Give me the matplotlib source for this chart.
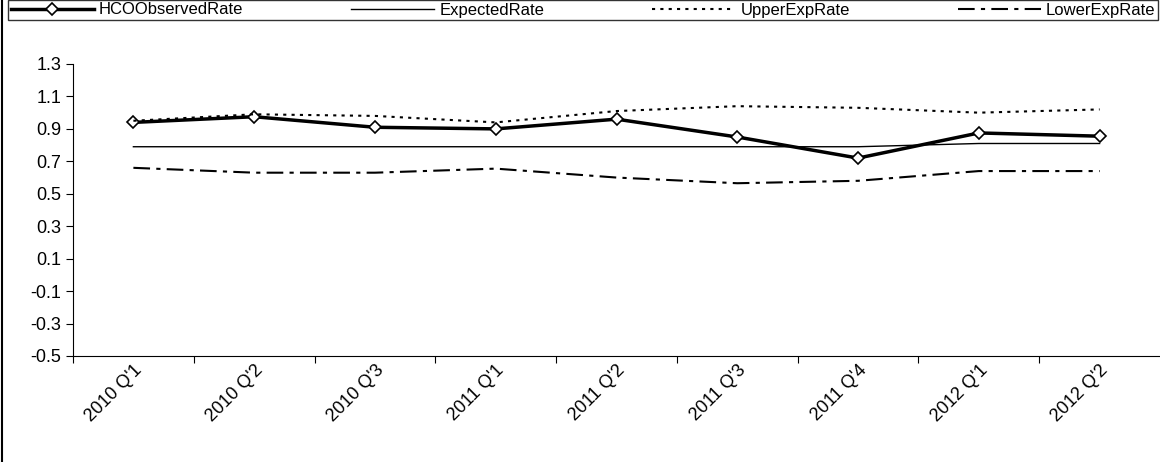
import matplotlib.pyplot as plt
from matplotlib.patches import Rectangle

quarters = ["2010 Q'1", "2010 Q'2", "2010 Q'3", "2011 Q'1", "2011 Q'2",
            "2011 Q'3", "2011 Q'4", "2012 Q'1", "2012 Q'2"]
observed = [0.94, 0.975, 0.91, 0.90, 0.96, 0.85, 0.72, 0.875, 0.855]
expected = [0.79, 0.79, 0.79, 0.79, 0.79, 0.79, 0.79, 0.81, 0.81]
upper = [0.95, 0.99, 0.98, 0.94, 1.01, 1.04, 1.03, 1.00, 1.02]
lower = [0.66, 0.63, 0.63, 0.655, 0.60, 0.565, 0.58, 0.64, 0.64]

plt.rcParams['font.family'] = ['Liberation Sans', 'DejaVu Sans']
fig = plt.figure(figsize=(11.6, 4.62), dpi=100)
ax = fig.add_axes([73/1160, 1 - 356/462, (1160-73)/1160, (356-64)/462])

x = range(len(quarters))
ax.plot(x, observed, color='black', lw=2.5, marker='D', ms=6,
        mfc='white', mec='black', mew=1.2, label='HCOObservedRate')
ax.plot(x, expected, color='black', lw=1, label='ExpectedRate')
ax.plot(x, upper, color='black', lw=1.5, ls=(0, (1.5, 2.5)), label='UpperExpRate')
ax.plot(x, lower, color='black', lw=1.5, ls=(0, (8, 3, 2, 3)), label='LowerExpRate')

ax.set_xlim(-0.5, len(quarters) - 0.5)
ax.set_ylim(-0.5, 1.3)
ax.set_yticks([-0.5, -0.3, -0.1, 0.1, 0.3, 0.5, 0.7, 0.9, 1.1, 1.3])
ax.set_yticklabels(["-0.5", "-0.3", "-0.1", "0.1", "0.3", "0.5", "0.7", "0.9", "1.1", "1.3"])
ax.set_xticks([i + 0.5 for i in range(-1, len(quarters) - 1)], minor=False)
ax.set_xticklabels([])
ax.set_xticks(list(x), minor=True)
ax.set_xticklabels(quarters, minor=True, rotation=45, ha='right', rotation_mode='anchor')
ax.tick_params(axis='x', which='minor', length=0, pad=4, labelsize=13)
ax.tick_params(axis='x', which='major', length=5, direction='out')
ax.tick_params(axis='y', length=5, direction='out', labelsize=13)
for s in ['top', 'right']:
    ax.spines[s].set_visible(False)

leg = fig.legend(loc='lower left', bbox_to_anchor=(8/1160, 1 - 20/462, 1150/1160, 19/462),
                 mode='expand', ncol=4, frameon=True, fancybox=False, edgecolor='black',
                 fontsize=12, handlelength=5, borderpad=0.15, borderaxespad=0,
                 handletextpad=0.3)
leg.get_frame().set_linewidth(1)

fig.patches.append(Rectangle((2/1160, 0), 0, 1, transform=fig.transFigure,
                             edgecolor='black', lw=1.5, fill=False))
fig.savefig('out.png', dpi=100)
